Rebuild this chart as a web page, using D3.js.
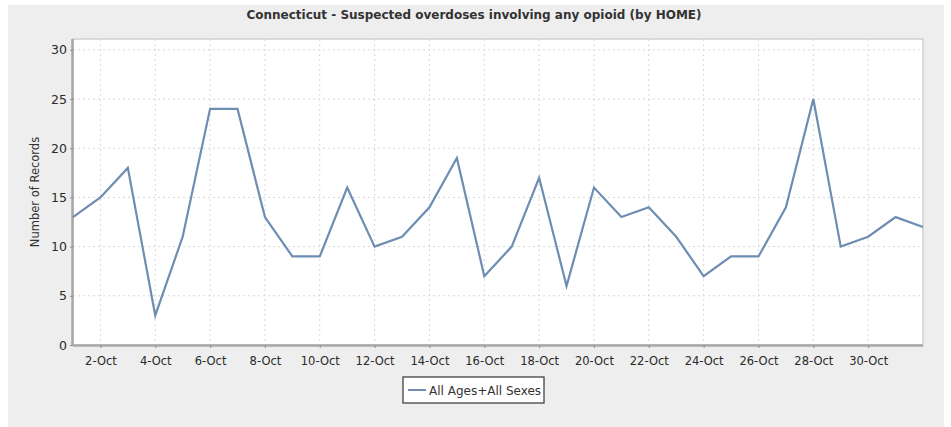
<!DOCTYPE html>
<html>
<head>
<meta charset="utf-8">
<script src="https://cdn.jsdelivr.net/npm/d3@7"></script>
<style>
  html, body { margin: 0; padding: 0; background: #ffffff; }
  svg { display: block; }
</style>
</head>
<body>
<svg id="chart" width="951" height="427"></svg>
<script>
const title = "Connecticut - Suspected overdoses involving any opioid (by HOME)";
const yLabel = "Number of Records";
const seriesName = "All Ages+All Sexes";
// Day index: 1 = 1-Oct ... 32 = 1-Nov
const days = d3.range(1, 33);
const values = [13, 15, 18, 3, 11, 24, 24, 13, 9, 9, 16, 10, 11, 14, 19, 7,
                10, 17, 6, 16, 13, 14, 11, 7, 9, 9, 14, 25, 10, 11, 13, 12];
const xTickDays = [2, 4, 6, 8, 10, 12, 14, 16, 18, 20, 22, 24, 26, 28, 30];
const xTickLabels = xTickDays.map(d => d + "-Oct");
const gridDays = [2, 4, 6, 8, 10, 12, 14, 16, 18, 20, 22, 24, 26, 28, 30];
const yTicks = [0, 5, 10, 15, 20, 25, 30];

const svg = d3.select("#chart");
const font = "'DejaVu Sans', sans-serif";

// panel background
svg.append("rect").attr("x", 8).attr("y", 5).attr("width", 936).attr("height", 422)
  .attr("fill", "#eeeeee");

const L = 73, T = 39, R = 923, B = 345;
const x = d3.scaleLinear().domain([1, 32]).range([L, R]);
const y = d3.scaleLinear().domain([0, 31.1]).range([B, T]);

// plot background
svg.append("rect").attr("x", L).attr("y", T).attr("width", R - L).attr("height", B - T)
  .attr("fill", "#ffffff").attr("stroke", "#d0d0d0").attr("stroke-width", 1.5);

// gridlines
const grid = svg.append("g");
grid.selectAll("line.v").data(gridDays).join("line")
  .attr("x1", d => x(d)).attr("x2", d => x(d)).attr("y1", T).attr("y2", B)
  .attr("stroke", "#d8d8d8").attr("stroke-dasharray", "2,3");
grid.selectAll("line.h").data(yTicks.filter(v => v > 0)).join("line")
  .attr("x1", L).attr("x2", R).attr("y1", d => y(d)).attr("y2", d => y(d))
  .attr("stroke", "#d8d8d8").attr("stroke-dasharray", "2,3");

// axes
const xAxis = d3.axisBottom(x).tickValues(xTickDays)
  .tickFormat((d, i) => xTickLabels[i]).tickSize(3).tickPadding(9);
const gx = svg.append("g").attr("transform", `translate(0,${B})`).call(xAxis);
gx.select(".domain").attr("stroke", "#a8a8a8").attr("stroke-width", 2.5)
  .attr("d", `M${L},0.5H${R}`);
gx.selectAll(".tick line").attr("stroke", "#909090");
gx.selectAll(".tick text").attr("font-family", font).attr("font-size", 11.5)
  .attr("fill", "#2a2a2a");

const yAxis = d3.axisLeft(y).tickValues(yTicks).tickSize(3).tickPadding(3);
const gy = svg.append("g").attr("transform", `translate(${L},0)`).call(yAxis);
gy.select(".domain").attr("stroke", "#a8a8a8").attr("stroke-width", 2.5)
  .attr("d", `M-0.5,${T}V${B}`);
gy.selectAll(".tick line").attr("stroke", "#909090");
gy.selectAll(".tick text").attr("font-family", font).attr("font-size", 12.5)
  .attr("fill", "#2a2a2a");

// line
const line = d3.line().x((d, i) => x(days[i])).y(d => y(d));
svg.append("path").datum(values).attr("d", line)
  .attr("fill", "none").attr("stroke", "#6d8db2").attr("stroke-width", 2.2)
  .attr("stroke-linejoin", "miter");

// title
svg.append("text").attr("x", 474).attr("y", 19).attr("text-anchor", "middle")
  .attr("font-family", font).attr("font-weight", "bold").attr("font-size", 12)
  .attr("fill", "#333333").text(title);

// y label
svg.append("text").attr("transform", `translate(39,192) rotate(-90)`)
  .attr("text-anchor", "middle").attr("font-family", font).attr("font-size", 11.5)
  .attr("fill", "#333333").text(yLabel);

// legend
const lg = svg.append("g");
lg.append("rect").attr("x", 403).attr("y", 377).attr("width", 141).attr("height", 26)
  .attr("fill", "#ffffff").attr("stroke", "#333333").attr("stroke-width", 1.2);
lg.append("line").attr("x1", 408).attr("x2", 426).attr("y1", 390).attr("y2", 390)
  .attr("stroke", "#6d8db2").attr("stroke-width", 2);
lg.append("text").attr("x", 429).attr("y", 394.5).attr("font-family", font)
  .attr("font-size", 12).attr("fill", "#333333").text(seriesName);
</script>
</body>
</html>
